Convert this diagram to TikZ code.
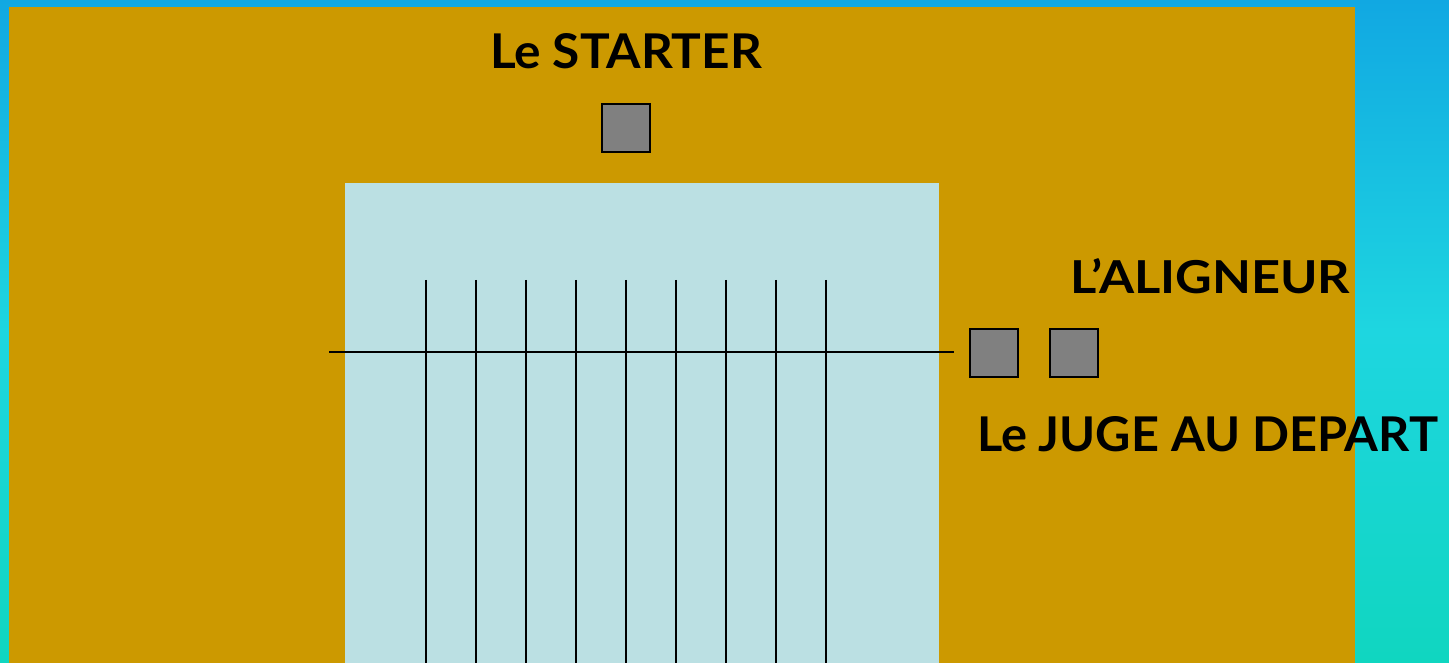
\documentclass[tikz,border=0pt]{standalone}
\usepackage{fontspec}
\setmainfont{Lato}
\usepackage{graphicx}
\definecolor{bgtop}{RGB}{17,168,226}
\definecolor{bgmid}{RGB}{30,214,224}
\definecolor{bgbot}{RGB}{16,214,192}
\definecolor{field}{RGB}{204,153,0}
\definecolor{pool}{RGB}{187,224,227}
\definecolor{box}{RGB}{128,128,128}
\tikzset{
  judge/.style={draw=black, line width=2pt, fill=box, minimum size=48pt, inner sep=0pt, outer sep=0pt},
  lane/.style={line width=2.6pt, black},
  lbl/.style={anchor=base west, inner sep=0pt, outer sep=0pt, text=black}
}
\begin{document}
\begin{tikzpicture}[x=1pt,y=-1pt]
\useasboundingbox (0,0) rectangle (1449,663);
\shade[top color=bgtop, bottom color=bgbot, middle color=bgmid] (0,0) rectangle (1449,663);
\fill[field] (9,7) rectangle (1355,663);
\fill[pool] (345,183) rectangle (939,663);
% lanes
\foreach \x in {426,476,526,576,626,676,726,776,826}{
  \draw[lane] (\x,280) -- (\x,663);
}
\coordinate (lineL) at (329,352);
\coordinate (lineR) at (954,352);
\draw[lane] (lineL) -- (lineR);
% officials
\node[judge] (starter) at (625.5,128.5) {};
\node[judge] (aligneur) at (994,352.5) {};
\node[judge] (juge) at (1074,352.5) {};
% labels
\node[lbl] (tstarter) at (490,69) {\resizebox{272pt}{35pt}{\bfseries Le STARTER}};
\node[lbl] (taligneur) at (1070,294) {\resizebox{280pt}{35pt}{\bfseries L’ALIGNEUR}};
\node[lbl] (tjuge) at (977,451) {\resizebox{461pt}{35pt}{\bfseries Le JUGE AU DEPART}};
\end{tikzpicture}
\end{document}
